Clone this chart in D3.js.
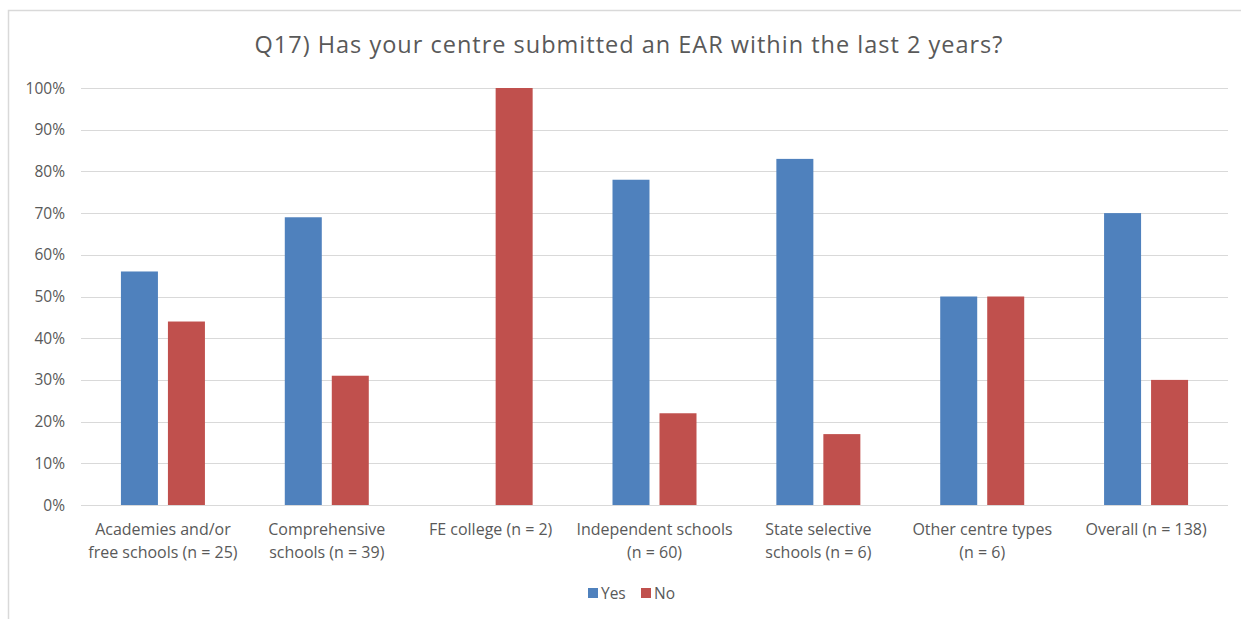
<!DOCTYPE html>
<html><head><meta charset="utf-8">
<script src="https://cdn.jsdelivr.net/npm/d3@7"></script>
<style>body{margin:0;background:#fff;} svg{display:block;} text{font-family:"Open Sans",Lato,sans-serif;fill:#595959;}</style>
</head><body>
<svg id="c" width="1241" height="619"></svg>
<script>
const categories = [["Academies and/or","free schools (n = 25)"],["Comprehensive","schools (n = 39)"],["FE college (n = 2)"],["Independent schools","(n = 60)"],["State selective","schools (n = 6)"],["Other centre types","(n = 6)"],["Overall (n = 138)"]];
const seriesNames = ["Yes","No"];
const yesValues = [56,69,0,78,83,50,70];
const noValues = [44,31,100,22,17,50,30];
const yTicks = [0,10,20,30,40,50,60,70,80,90,100];
const colors = ["#4f81bd","#c0504d"];

(function(){
const svg = d3.select("#c");
svg.append("rect").attr("x",8.5).attr("y",10.5).attr("width",1240).attr("height",620)
  .attr("fill","none").attr("stroke","#d9d9d9").attr("stroke-width",1.5);

const pLeft=81, pRight=1228, pTop=88, pBottom=505;
const x0 = d3.scaleBand().domain(d3.range(categories.length)).range([pLeft,pRight]);
const bw = 37, gap = 10;
const groupW = 2*bw+gap;
const x1 = d3.scaleOrdinal().domain(seriesNames).range([0, bw+gap]);
const y = d3.scaleLinear().domain([0,100]).range([pBottom,pTop]);

svg.append("g").selectAll("line").data(yTicks).join("line")
  .attr("x1",pLeft).attr("x2",pRight).attr("y1",d=>Math.round(y(d))+0.5).attr("y2",d=>Math.round(y(d))+0.5)
  .attr("stroke","#d9d9d9").attr("stroke-width",1);

svg.append("g").selectAll("text").data(yTicks).join("text")
  .attr("x",65).attr("y",d=>y(d)+5.5).attr("text-anchor","end").attr("font-size",15.5)
  .text(d=>d+"%");

const data = categories.map((c,i)=>({i, vals:[yesValues[i],noValues[i]]}));
const g = svg.append("g").selectAll("g").data(data).join("g")
  .attr("transform",d=>`translate(${x0(d.i)+x0.bandwidth()/2-groupW/2},0)`);
g.selectAll("rect").data(d=>d.vals.map((v,k)=>({v,k}))).join("rect")
  .attr("x",d=>x1(seriesNames[d.k])).attr("width",bw)
  .attr("y",d=>y(d.v)).attr("height",d=>pBottom-y(d.v))
  .attr("fill",d=>colors[d.k]);

const xl = svg.append("g").selectAll("text").data(categories).join("text")
  .attr("x",(d,i)=>x0(i)+x0.bandwidth()/2).attr("y",535).attr("text-anchor","middle").attr("font-size",16);
xl.selectAll("tspan").data(d=>d).join("tspan")
  .attr("x",function(){return this.parentNode.getAttribute("x");})
  .attr("dy",(d,k)=>k===0?0:22.5).text(d=>d);

svg.append("text").attr("x",629).attr("y",53).attr("text-anchor","middle").attr("font-size",23.5)
  .attr("letter-spacing",1.0)
  .text("Q17) Has your centre submitted an EAR within the last 2 years?");

const leg = svg.append("g");
const items = [{n:"Yes",x:588},{n:"No",x:641}];
items.forEach((it,k)=>{
  leg.append("rect").attr("x",it.x).attr("y",588).attr("width",10).attr("height",10).attr("fill",colors[k]);
  leg.append("text").attr("x",it.x+13).attr("y",599).attr("font-size",15.5).text(it.n);
});
})();
</script>
</body></html>
